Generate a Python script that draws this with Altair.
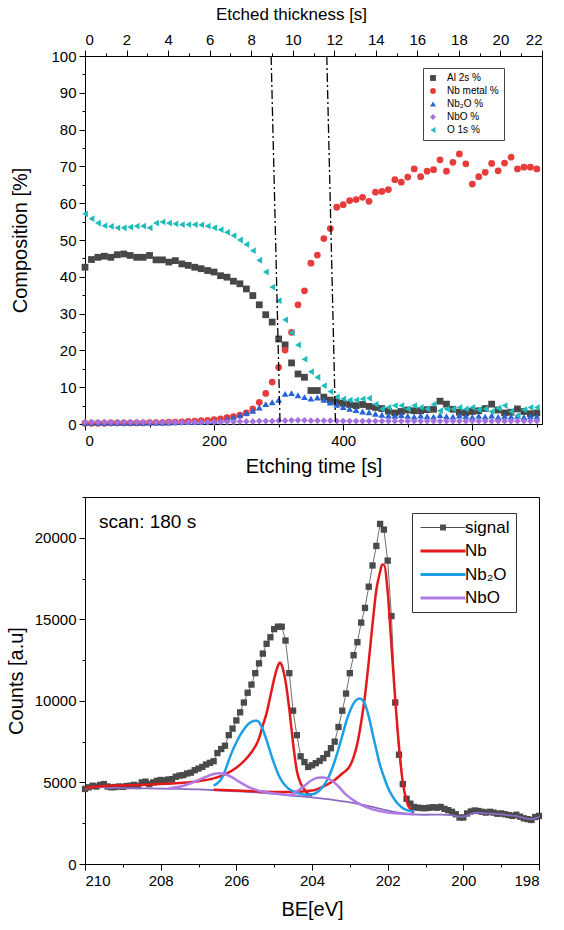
import altair as alt
import pandas as pd

FONT = "Liberation Sans"

# ---------------- top panel: composition vs etching time ----------------
time_s = list(range(0, 701, 10))
al2s = [42.6, 44.7, 45.3, 45.6, 45.3, 46.0, 46.2, 45.8, 45.3, 45.3,
        45.8, 44.6, 44.6, 44.0, 44.4, 43.5, 43.1, 42.6, 42.2, 41.7,
        41.3, 40.3, 39.9, 38.8, 38.1, 36.7, 34.9, 32.4, 29.7, 27.7,
        23.1, 21.5, 16.6, 13.6, 12.7, 9.1, 9.1, 7.3, 6.5, 6.0,
        5.6, 5.3, 5.0, 5.3, 4.8, 4.5, 4.2, 3.5, 3.0, 3.4,
        3.8, 3.6, 3.6, 3.9, 4.0, 6.2, 5.4, 4.0, 3.2, 3.0,
        3.4, 3.6, 4.2, 5.4, 3.8, 3.0, 3.2, 4.1, 3.4, 2.8, 3.0]
nb_metal = [0.2, 0.2, 0.2, 0.2, 0.3, 0.3, 0.3, 0.3, 0.3, 0.3,
            0.4, 0.4, 0.4, 0.5, 0.5, 0.6, 0.7, 0.8, 0.9, 1.0,
            1.2, 1.4, 1.7, 2.0, 2.4, 3.0, 4.1, 5.9, 8.3, 11.4,
            15.4, 20.1, 24.9, 32.4, 36.2, 43.7, 45.9, 50.4, 53.1, 58.9,
            59.6, 60.7, 61.0, 61.6, 60.5, 63.0, 63.2, 63.7, 66.4, 65.7,
            67.1, 69.3, 67.2, 68.7, 69.1, 71.8, 68.7, 71.1, 73.4, 70.7,
            65.2, 67.2, 68.4, 70.8, 68.8, 70.9, 72.5, 69.3, 69.8, 69.8, 69.3]
nb2o = [0.3, 0.3, 0.3, 0.3, 0.3, 0.3, 0.3, 0.3, 0.3, 0.3,
        0.4, 0.4, 0.4, 0.4, 0.5, 0.5, 0.5, 0.6, 0.6, 0.7,
        0.8, 1.0, 1.4, 1.8, 2.4, 3.0, 3.6, 4.5, 5.4, 5.9,
        6.6, 8.2, 8.4, 7.8, 7.3, 6.9, 7.2, 6.6, 5.8, 5.2,
        4.6, 4.1, 3.8, 3.4, 3.2, 2.8, 2.5, 2.3, 2.2, 2.4,
        2.2, 2.0, 2.3, 2.1, 2.0, 2.4, 2.1, 2.0, 2.3, 2.1,
        1.9, 2.2, 2.0, 2.3, 1.9, 2.1, 2.0, 2.2, 1.9, 2.1, 2.0]
nbo = [0.5, 0.5, 0.5, 0.5, 0.5, 0.5, 0.5, 0.5, 0.5, 0.5,
       0.5, 0.5, 0.5, 0.5, 0.5, 0.5, 0.5, 0.5, 0.5, 0.5,
       0.5, 0.6, 0.6, 0.6, 0.7, 0.7, 0.7, 0.8, 0.8, 0.8,
       0.9, 0.9, 1.0, 1.0, 1.0, 0.9, 0.9, 0.9, 0.9, 0.8,
       0.8, 0.8, 0.8, 0.8, 0.8, 0.8, 0.8, 0.8, 0.8, 0.8,
       0.8, 0.8, 0.8, 0.8, 0.8, 0.8, 0.8, 0.8, 0.8, 0.8,
       0.8, 0.8, 0.8, 0.8, 0.8, 0.8, 0.8, 0.8, 0.8, 0.8, 0.8]
o1s = [57.1, 55.8, 54.6, 53.9, 53.7, 53.3, 53.3, 53.5, 53.8, 53.8,
       53.3, 54.6, 54.9, 54.6, 54.4, 54.2, 54.2, 54.2, 54.1, 53.8,
       53.3, 52.8, 52.1, 51.2, 50.0, 48.8, 47.1, 44.5, 41.3, 37.2,
       33.5, 28.3, 24.8, 21.5, 17.6, 14.2, 12.7, 10.4, 8.8, 7.4,
       6.8, 6.5, 6.5, 6.8, 7.0, 5.4, 4.1, 4.5, 5.0, 5.0,
       4.1, 5.0, 4.5, 4.1, 5.4, 3.6, 4.1, 4.1, 4.5, 4.1,
       4.5, 3.9, 4.1, 3.4, 4.3, 5.0, 3.4, 2.3, 3.9, 4.5, 4.5]

series_names = ["Al 2s %", "Nb metal %", "Nb\u2082O %", "NbO %", "O 1s %"]
series_colors = ["#474747", "#e83b3b", "#2563d6", "#a571dc", "#1fbcbc"]
series_shapes = ["square", "circle", "triangle-up", "diamond", "triangle-left"]

# dash-dot guide lines (in etched-thickness units on top axis)
guide_top = [8.96, 11.64]
guide_bottom = [9.39, 12.06]
guide_hi = [100, 100]
guide_lo = [0, 0]

# ---------------- bottom panel: XPS spectrum ----------------
be_grid = [round(210.0 - 0.1 * i, 1) for i in range(121)]
signal = [4600, 4700, 4800, 4750, 4850, 4900, 4750, 4700, 4720, 4750,
          4730, 4780, 4800, 4850, 4780, 5000, 5050, 4900, 5000, 5100,
          5150, 5120, 5180, 5200, 5350, 5420, 5450, 5550, 5600, 5750,
          5850, 5950, 6100, 6200, 6300, 6800, 7050, 7250, 7900, 8300,
          8800, 9300, 9900, 10500, 11000, 11700, 12300, 12900, 13500, 13900,
          14400, 14550, 14550, 13700, 11700, 9400, 7900, 6600, 6250, 5950,
          6050, 6180, 6320, 6490, 6750, 7100, 7500, 8400, 9400, 10450,
          11700, 12800, 13600, 14800, 15700, 17000, 18300, 19500, 20850, 20500,
          18600, 15200, 9900, 6700, 4900, 4000, 3700, 3500, 3450, 3430,
          3420, 3450, 3480, 3450, 3500, 3380, 3300, 3200, 3050, 2850,
          2850, 3100, 3220, 3280, 3250, 3200, 3150, 3200, 3150, 3080,
          3100, 3050, 3000, 2950, 3020, 2900, 2800, 2750, 2700, 2880,
          2950]

bg_be = [210.0, 209.9, 209.8, 209.6, 209.5, 209.4, 209.2, 209.0, 208.5, 208.0,
         207.5, 207.0, 206.5, 206.0, 205.5, 205.0, 204.5, 204.0, 203.5, 203.0,
         202.5, 202.0, 201.5, 201.2, 201.0, 200.6, 200.3, 200.1, 200.0, 199.8,
         199.6, 199.4, 199.2, 199.0, 198.8, 198.6, 198.4, 198.2, 198.0]
bg_ct = [4550, 4680, 4720, 4700, 4760, 4650, 4670, 4650, 4640, 4620,
         4600, 4570, 4520, 4460, 4390, 4300, 4200, 4080, 3950, 3780,
         3550, 3280, 3080, 3030, 3020, 3030, 3000, 2900, 2900, 3080,
         3150, 3100, 3080, 3050, 2980, 2950, 2820, 2750, 2900]

nbA_be = [210.0, 209.5, 209.0, 208.5, 208.0, 207.5, 207.0, 206.6, 206.3, 206.0,
          205.8, 205.6, 205.4, 205.3, 205.2, 205.1, 205.0, 204.9, 204.85, 204.8,
          204.7, 204.6, 204.5, 204.4, 204.3, 204.2, 204.1, 204.0]
nbA_ct = [4650, 4780, 4820, 4850, 4900, 4970, 5080, 5250, 5500, 5900,
          6300, 6850, 7700, 8500, 9250, 10300, 11350, 12150, 12350, 12200,
          11200, 9500, 7400, 5700, 4950, 4550, 4300, 4200]

nbB_be = [206.6, 206.0, 205.5, 205.0, 204.5, 204.0, 203.7, 203.4, 203.2, 203.0,
          202.9, 202.8, 202.7, 202.6, 202.5, 202.4, 202.3, 202.2, 202.15, 202.1,
          202.0, 201.9, 201.8, 201.7, 201.6, 201.5, 201.4, 201.3]
nbB_ct = [4550, 4500, 4460, 4420, 4420, 4500, 4750, 5150, 5550, 6000,
          6550, 7400, 8700, 10300, 12400, 14700, 16800, 17900, 18350, 18350,
          16700, 13400, 10100, 7200, 5000, 3850, 3350, 3150]

nb2o_be = [206.6, 206.5, 206.4, 206.3, 206.2, 206.1, 206.0, 205.9, 205.8, 205.7,
           205.6, 205.5, 205.45, 205.4, 205.3, 205.2, 205.1, 205.0, 204.9, 204.8,
           204.7, 204.6, 204.5, 204.4, 204.3, 204.2, 204.1, 204.0, 203.9, 203.8,
           203.7, 203.6, 203.5, 203.4, 203.3, 203.2, 203.1, 203.0, 202.9, 202.8,
           202.75, 202.7, 202.6, 202.5, 202.4, 202.3, 202.2, 202.1, 202.0, 201.9,
           201.8, 201.7, 201.6, 201.5, 201.4, 201.3]
nb2o_ct = [4800, 4950, 5200, 5700, 6350, 6950, 7450, 7900, 8250, 8550,
           8720, 8780, 8780, 8700, 8250, 7600, 6850, 6150, 5550, 5100,
           4800, 4580, 4450, 4370, 4300, 4260, 4250, 4270, 4350, 4520,
           4780, 5150, 5650, 6300, 7050, 7850, 8700, 9350, 9850, 10100,
           10150, 10120, 9800, 9050, 8000, 7000, 6050, 5350, 4720, 4250,
           3900, 3620, 3420, 3320, 3250, 3220]

nboA_be = [207.8, 207.6, 207.4, 207.2, 207.0, 206.8, 206.6, 206.45, 206.3, 206.1,
           205.9, 205.7, 205.5, 205.2, 204.9, 204.6, 204.4]
nboA_ct = [4620, 4700, 4800, 4950, 5150, 5350, 5520, 5570, 5500, 5300,
           5000, 4750, 4560, 4400, 4300, 4220, 4180]

nboB_be = [204.6, 204.4, 204.2, 204.0, 203.8, 203.7, 203.5, 203.3, 203.1, 202.9,
           202.7, 202.4, 202.0, 201.6, 201.3]
nboB_ct = [4200, 4450, 4800, 5150, 5300, 5300, 5150, 4750, 4250, 3900,
           3620, 3350, 3150, 3080, 3050]

legend_names = ["signal", "Nb", "Nb\u2082O", "NbO"]
legend_colors = ["#505050", "#e3191c", "#1c9fe6", "#b07ae6"]
legend_paths = [
    "M-1.2,-0.1L7.8,-0.1L7.8,0.1L-1.2,0.1Z M2.7,-0.6L3.9,-0.6L3.9,0.6L2.7,0.6Z",
    "M-1.2,-0.3L7.8,-0.3L7.8,0.3L-1.2,0.3Z",
    "M-1.2,-0.3L7.8,-0.3L7.8,0.3L-1.2,0.3Z",
    "M-1.2,-0.3L7.8,-0.3L7.8,0.3L-1.2,0.3Z",
]

# ---------------- data frames ----------------
rows = []
for name, vals in zip(series_names, [al2s, nb_metal, nb2o, nbo, o1s]):
    for t, v in zip(time_s, vals):
        rows.append({"t": t, "v": v, "s": name})
comp_df = pd.DataFrame(rows)
guide_df = pd.DataFrame({"x1": guide_top, "x2": guide_bottom, "v": guide_hi, "v2": guide_lo})

sig_df = pd.DataFrame({"be": be_grid, "c": signal})


def curve_df(b, c):
    return pd.DataFrame({"be": b, "c": c})


def minor_size(test, major, minor):
    return {"condition": {"test": test, "value": major}, "value": minor}


# ---------------- top chart ----------------
W1, H1 = 457, 368
y_top = alt.Y("v:Q", scale=alt.Scale(domain=[0, 100], nice=False),
              axis=alt.Axis(title="Composition [%]", values=list(range(0, 101, 5)),
                            labelExpr="datum.value % 10 === 0 ? datum.label : ''",
                            tickSize=minor_size("datum.value % 10 === 0", 6, 3),
                            labelOverlap=False, titlePadding=20))
top_legend = alt.Legend(title=None, orient="none", legendX=338, legendY=12,
                        labelFontSize=10, symbolSize=34, strokeColor="#444444",
                        fillColor="white", padding=5, rowPadding=3, labelOffset=9,
                        labelFont=FONT)
points = alt.Chart(comp_df).mark_point(filled=True, opacity=1, size=46).encode(
    x=alt.X("t:Q", scale=alt.Scale(domain=[0, 708], nice=False, zero=False),
            axis=alt.Axis(title="Etching time [s]", values=list(range(0, 701, 100)),
                          labelExpr="datum.value % 200 === 0 ? datum.label : ''",
                          tickSize=minor_size("datum.value % 200 === 0", 6, 3),
                          labelOverlap=False, titlePadding=8)),
    y=y_top,
    color=alt.Color("s:N", scale=alt.Scale(domain=series_names, range=series_colors), legend=top_legend),
    shape=alt.Shape("s:N", scale=alt.Scale(domain=series_names, range=series_shapes), legend=top_legend),
)
guides = alt.Chart(guide_df).mark_rule(color="black", strokeWidth=1.3, strokeDash=[9, 3, 2, 3]).encode(
    x=alt.X("x1:Q", scale=alt.Scale(domain=[0, 22], nice=False, zero=False),
            axis=alt.Axis(orient="top", title="Etched thickness [s]", values=list(range(0, 23)),
                          labelExpr="datum.value % 2 === 0 ? datum.label : ''",
                          tickSize=minor_size("datum.value % 2 === 0", 6, 3),
                          labelOverlap=False, titlePadding=9, titleFontSize=17,
                          titleX=206, titleAlign="center")),
    x2="x2:Q",
    y=y_top,
    y2="v2:Q",
)
top = alt.layer(points, guides).resolve_scale(x="independent").properties(width=W1, height=H1)

# ---------------- bottom chart ----------------
W2, H2 = 454, 367
xs = alt.Scale(domain=[210, 198], nice=False, zero=False)
ys = alt.Scale(domain=[0, 22500], nice=False)
x_bot = alt.X("be:Q", scale=xs,
              axis=alt.Axis(title="BE[eV]", values=list(range(198, 211)),
                            labelExpr="datum.value % 2 === 0 ? datum.label : ''",
                            tickSize=minor_size("datum.value % 2 === 0", 6, 3),
                            labelOverlap=False, titlePadding=11))
y_bot = alt.Y("c:Q", scale=ys,
              axis=alt.Axis(title="Counts [a.u]", values=list(range(0, 22501, 2500)), format="d",
                            labelExpr="datum.value % 5000 === 0 ? datum.label : ''",
                            tickSize=minor_size("datum.value % 5000 === 0", 6, 3),
                            labelOverlap=False, titlePadding=8))

sig_line = alt.Chart(sig_df).mark_line(color="#707070", strokeWidth=1).encode(x=x_bot, y=y_bot)
sig_pts = alt.Chart(sig_df).mark_square(color="#4a4a4a", size=40, opacity=1).encode(x=x_bot, y=y_bot)


def fit_line(b, c, color, width=2.5):
    return alt.Chart(curve_df(b, c)).mark_line(color=color, strokeWidth=width, interpolate="monotone").encode(
        x=x_bot, y=y_bot)


bg_layer = fit_line(bg_be, bg_ct, "#8a6cc0", 1.8)
nbA_layer = fit_line(nbA_be, nbA_ct, "#e3191c")
nbB_layer = fit_line(nbB_be, nbB_ct, "#e3191c")
nb2o_layer = fit_line(nb2o_be, nb2o_ct, "#1c9fe6")
nboA_layer = fit_line(nboA_be, nboA_ct, "#b07ae6")
nboB_layer = fit_line(nboB_be, nboB_ct, "#b07ae6")

bot_legend = alt.Legend(title=None, orient="none", legendX=327, legendY=16,
                        labelFontSize=17, symbolSize=100, strokeColor="#333333",
                        fillColor="white", padding=6, rowPadding=5.5, labelOffset=30,
                        labelFont=FONT)
leg_df = pd.DataFrame({"k": legend_names})
legend_layer = alt.Chart(leg_df).transform_filter("false").mark_point(
    filled=True, opacity=1, size=100, strokeWidth=0).encode(
    color=alt.Color("k:N", scale=alt.Scale(domain=legend_names, range=legend_colors), legend=bot_legend),
    shape=alt.Shape("k:N", scale=alt.Scale(domain=legend_names, range=legend_paths), legend=bot_legend),
)

note_df = pd.DataFrame({"label": ["scan: 180 s"]})
note = alt.Chart(note_df).mark_text(align="left", baseline="middle", fontSize=19, font=FONT, color="black").encode(
    x=alt.value(14), y=alt.value(25), text="label:N")

bottom = alt.layer(sig_line, sig_pts, bg_layer, nbA_layer, nbB_layer, nb2o_layer,
                   nboA_layer, nboB_layer, legend_layer, note).properties(width=W2, height=H2)

chart = alt.vconcat(top, bottom, spacing=12).resolve_scale(
    color="independent", shape="independent"
).properties(
    background="white", padding={"left": 5, "top": 4, "right": 5, "bottom": 5}
).configure_view(
    stroke="black", strokeWidth=1
).configure_axis(
    labelFont=FONT, titleFont=FONT, labelFontSize=15, titleFontSize=20,
    titleFontWeight="normal", labelColor="black", titleColor="black",
    domainColor="black", tickColor="black", grid=False, labelPadding=3
).configure_legend(labelFont=FONT)

chart.save("out.html", embed_options={"renderer": "svg", "actions": False})
